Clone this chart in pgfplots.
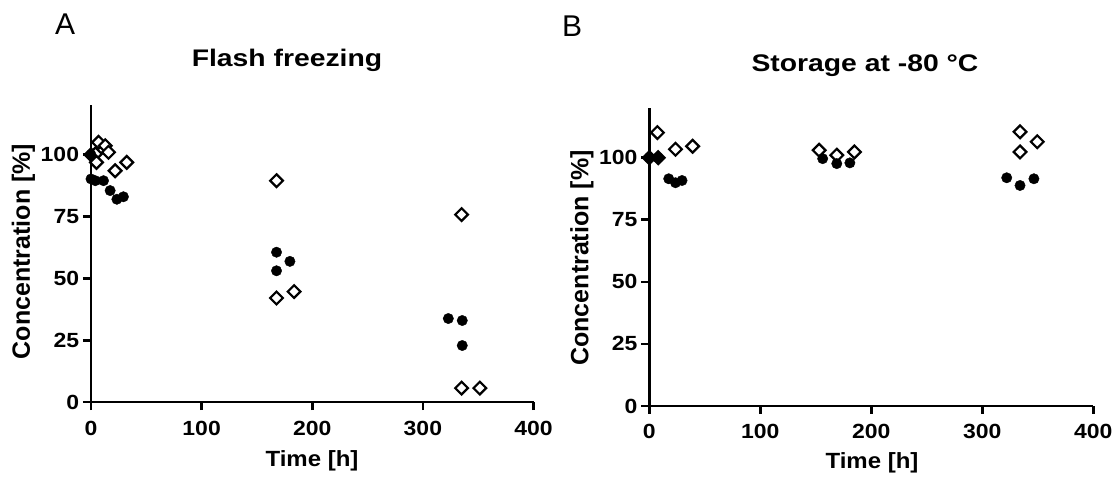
\documentclass[border=0pt]{standalone}
\usepackage{fontspec}
\setmainfont{Liberation Sans}
\usepackage{pgfplots}
\pgfplotsset{compat=1.18}

% shared look of both panels
\pgfplotsset{
  panel/.style={
    scale only axis,
    anchor=south west,
    xmin=0, xmax=400, ymin=0, ymax=120,
    axis lines=left,
    axis line style={-, line width=2.5pt},
    every outer x axis line/.append style={-},
    every outer y axis line/.append style={-},
    xtick={0,100,...,400},
    ytick={0,25,...,100},
    tick align=outside,
    major tick length=8pt,
    tick style={line width=2.5pt, black},
    ticklabel style={font=\fontsize{20.5}{24}\selectfont\bfseries, xscale=1.12},
    xticklabel style={yshift=-7pt},
    /pgf/number format/assume math mode=true,
    clip=false,
  },
  dots/.style={only marks, mark=*, mark size=5.2pt, black},
  diams/.style={only marks, mark=square*,
    mark options={rotate=45, fill=white, draw=black, line width=2.2pt},
    mark size=4.5pt},
}

\begin{document}
\begin{tikzpicture}
\path[use as bounding box] (0pt,0pt) rectangle (1114pt,479pt);

% ---- panel A
\begin{axis}[panel, at={(91pt,76.8pt)}, width=442.5pt, height=297pt]
\addplot[diams] coordinates {
  (0,100) (4,100.3) (6.8,105) (5,96.9) (12.9,103.6) (15.8,101)
  (21.8,93.5) (32.3,96.9)
  (167.7,89.5) (167.7,42.1) (183.6,44.7)
  (335,75.8) (335,5.7) (351.5,5.7)
};
\addplot[dots] coordinates {
  (0,100) (0,90.2) (3.9,89.5) (11.3,89.5) (17.3,85.5) (23.4,82) (29.3,83)
  (167.7,60.6) (167.7,53.1) (179.8,56.9)
  (323,33.8) (335.6,33) (335.6,22.9)
};
\end{axis}

% ---- panel B
\begin{axis}[panel, at={(649.3pt,73pt)}, width=444pt, height=298pt]
\addplot[diams] coordinates {
  (0,100) (8,100) (7.3,110.1) (23.6,103.4) (39,104.6)
  (153,103) (168.9,101) (184.8,102.3)
  (334,110.4) (334,102.3) (349.5,106.4)
};
\addplot[dots] coordinates {
  (0,100) (8,100) (17.5,91.5) (23.6,89.9) (29.5,90.8)
  (156.2,99.6) (168.9,97.6) (180.7,97.9)
  (322,91.9) (334,88.8) (346.5,91.5)
};
\end{axis}

% panel letters, titles, axis labels
\node[anchor=base west, inner sep=0pt, font=\fontsize{30}{30}\selectfont] at (55pt,444pt) {A};
\node[anchor=base west, inner sep=0pt, font=\fontsize{30}{30}\selectfont] at (562pt,442pt) {B};
\node[anchor=base, inner sep=0pt, xscale=1.18, font=\fontsize{24}{24}\selectfont\bfseries] at (287pt,412pt) {Flash freezing};
\node[anchor=base, inner sep=0pt, xscale=1.18, font=\fontsize{24}{24}\selectfont\bfseries] at (865pt,407pt) {Storage at -80 °C};
\node[anchor=base, inner sep=0pt, xscale=1.09, font=\fontsize{22}{22}\selectfont\bfseries] at (312pt,12pt) {Time [h]};
\node[anchor=base, inner sep=0pt, xscale=1.09, font=\fontsize{22}{22}\selectfont\bfseries] at (872pt,10pt) {Time [h]};
\node[rotate=90, anchor=center, inner sep=0pt, font=\fontsize{25}{25}\selectfont\bfseries] at (23.5pt,227.5pt) {Concentration [\%]};
\node[rotate=90, anchor=center, inner sep=0pt, font=\fontsize{25}{25}\selectfont\bfseries] at (582pt,221pt) {Concentration [\%]};
\end{tikzpicture}
\end{document}
